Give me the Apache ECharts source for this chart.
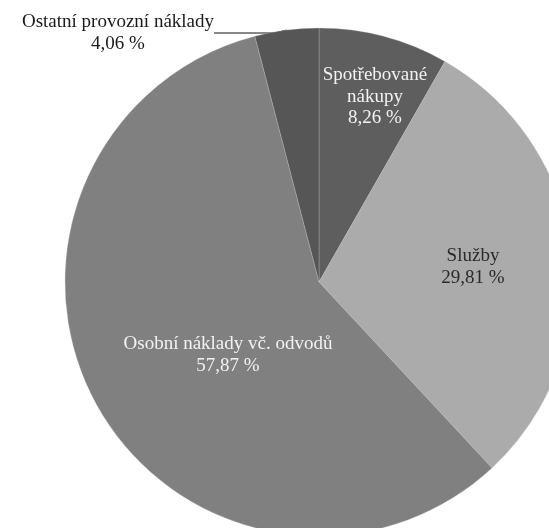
<!DOCTYPE html>
<html>
<head>
<meta charset="utf-8">
<script src="https://cdn.jsdelivr.net/npm/echarts@6/dist/echarts.min.js"></script>
<style>
html,body{margin:0;padding:0;background:#fff;}
#chart{width:549px;height:528px;}
</style>
</head>
<body>
<div id="chart"></div>
<script>
// Data
const categories = ['Spotřebované\nnákupy', 'Služby', 'Osobní náklady vč. odvodů', 'Ostatní provozní náklady'];
const values = [8.26, 29.81, 57.87, 4.06];

// Styles
const sliceColors = ['#5e5e5e', '#ababab', '#808080', '#565656'];
const labelColors = ['#f2f2f2', '#2a2a2a', '#f2f2f2', '#1a1a1a'];
// label anchor positions (layout only)
const labelPos = [[375, 97], [473, 267], [228, 355], [118, 33]];

const fmt = v => v.toFixed(2).replace('.', ',') + ' %';

const chart = echarts.init(document.getElementById('chart'), null, {renderer: 'canvas'});
chart.setOption({
  backgroundColor: '#ffffff',
  animation: false,
  series: [{
    type: 'pie',
    center: [319, 282],
    radius: [0, 254],
    startAngle: 90,
    clockwise: true,
    avoidLabelOverlap: false,
    data: categories.map((c, i) => ({
      name: c,
      value: values[i],
      itemStyle: {color: sliceColors[i]},
      label: {
        show: true,
        position: i === 3 ? 'outside' : 'inside',
        color: labelColors[i]
      },
      labelLine: {
        show: i === 3,
        length: 2,
        length2: 60,
        lineStyle: {color: '#111', width: 1}
      }
    })),
    itemStyle: {borderColor: 'rgba(200,200,200,0.5)', borderWidth: 0.6},
    label: {
      formatter: p => p.name + '\n' + fmt(p.value),
      fontFamily: '"Liberation Serif", "DejaVu Serif", serif',
      fontSize: 19,
      lineHeight: 21.5,
      align: 'center'
    },
    labelLayout: function (params) {
      const p = labelPos[params.dataIndex];
      return {x: p[0], y: p[1], align: 'center', verticalAlign: 'middle'};
    },
    emphasis: {disabled: true}
  }]
});
</script>
</body>
</html>
